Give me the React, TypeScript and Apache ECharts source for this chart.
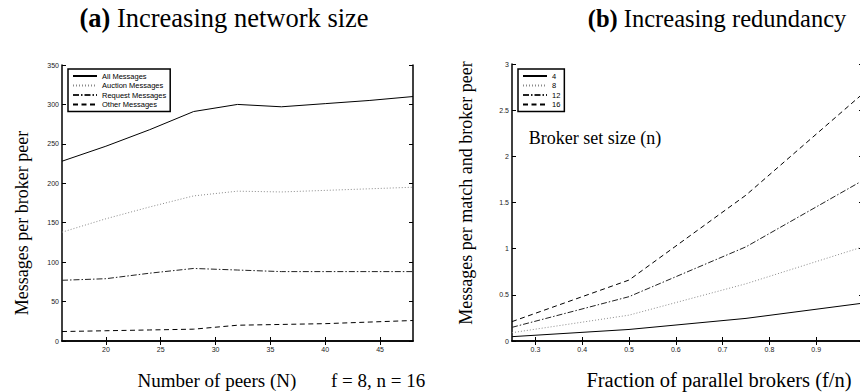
import React, { useEffect, useRef } from "react";
import * as echarts from "echarts";

// ---- Data: (a) Increasing network size ----
const peerCounts = [16, 20, 24, 28, 32, 36, 40, 44, 48];
const allMessages = [228, 247, 268, 291, 300, 297, 301, 305, 310];
const auctionMessages = [138, 155, 170, 184, 190, 189, 191, 193, 195];
const requestMessages = [77, 79, 86, 92, 90, 88, 88, 88, 88];
const otherMessages = [12, 13, 14, 15, 20, 21, 22, 24, 26];
const leftXTicks = [20, 25, 30, 35, 40, 45];

// ---- Data: (b) Increasing redundancy ----
const fractions = [0.25, 0.5, 0.75, 1.0];
const brokers4 = [0.047, 0.125, 0.245, 0.41];
const brokers8 = [0.09, 0.28, 0.62, 1.02];
const brokers12 = [0.148, 0.48, 1.02, 1.74];
const brokers16 = [0.21, 0.66, 1.58, 2.68];
const rightXTicks = [0.3, 0.4, 0.5, 0.6, 0.7, 0.8, 0.9];

const leftNames = ["All Messages", "Auction Messages", "Request Messages", "Other Messages"];
const rightNames = ["4", "8", "12", "16"];

const SERIF = "'Liberation Serif', 'Times New Roman', serif";
const SANS = "'Liberation Sans', Arial, sans-serif";

const SOLID = { color: "#000", type: "solid" as any };
const DOTTED = { color: "#8a8a8a", type: [1, 2] as any };
const DASHDOT = { color: "#222", type: [6, 2, 1.5, 2] as any };
const DASHED = { color: "#000", type: [5, 3.5] as any };

function pairs(xs: number[], ys: number[]) {
  return xs.map((x, i) => [x, ys[i]]);
}

function lineSeries(name: string, xs: number[], ys: number[], style: any, idx: number) {
  return {
    type: "line",
    name,
    data: pairs(xs, ys),
    xAxisIndex: idx * 2,
    yAxisIndex: idx * 2,
    symbol: "none",
    showSymbol: false,
    lineStyle: { width: 1, color: style.color, type: style.type },
    itemStyle: { color: style.color },
    silent: true,
  };
}

const axisLineStyle = { show: true, lineStyle: { color: "#000", width: 1.5 } };
const tickStyle = { show: true, inside: true, length: 4, lineStyle: { color: "#000", width: 1 } };
const labelStyle = { color: "#222", fontSize: 7, fontFamily: SANS };

const legendBase = {
  orient: "vertical",
  top: 69,
  itemWidth: 24,
  itemHeight: 8,
  itemGap: 1.5,
  padding: [3, 4, 3, 4],
  borderColor: "#000",
  borderWidth: 1.5,
  backgroundColor: "#fff",
  itemStyle: { opacity: 0, borderWidth: 0 },
  textStyle: { fontSize: 7.5, fontFamily: SANS, color: "#000" },
  selectedMode: false,
};

export default function App() {
  const ref = useRef<HTMLDivElement>(null);
  useEffect(() => {
    if (!ref.current) return;
    const chart = echarts.init(ref.current, undefined, { renderer: "svg" });
    const option: any = {
      animation: false,
      backgroundColor: "#fff",
      grid: [
        { left: 62, top: 65, width: 351, height: 276 },
        { left: 512, top: 64, width: 351, height: 277 },
      ],
      xAxis: [
        {
          type: "value", gridIndex: 0, position: "bottom", min: 16, max: 48,
          axisLine: axisLineStyle,
          axisTick: { ...tickStyle, customValues: leftXTicks },
          axisLabel: { ...labelStyle, margin: 5, customValues: leftXTicks },
          splitLine: { show: false },
        },
        {
          type: "value", gridIndex: 0, position: "top", min: 16, max: 48,
          axisLine: axisLineStyle,
          axisTick: { ...tickStyle, customValues: leftXTicks },
          axisLabel: { show: false },
          splitLine: { show: false },
        },
        {
          type: "value", gridIndex: 1, position: "bottom", min: 0.25, max: 1.0,
          axisLine: axisLineStyle,
          axisTick: { ...tickStyle, customValues: rightXTicks },
          axisLabel: { ...labelStyle, margin: 5, customValues: rightXTicks },
          splitLine: { show: false },
        },
        {
          type: "value", gridIndex: 1, position: "top", min: 0.25, max: 1.0,
          axisLine: axisLineStyle,
          axisTick: { ...tickStyle, customValues: rightXTicks },
          axisLabel: { show: false },
          splitLine: { show: false },
        },
      ],
      yAxis: [
        {
          type: "value", gridIndex: 0, position: "left", min: 0, max: 350, interval: 50,
          axisLine: axisLineStyle, axisTick: tickStyle,
          axisLabel: { ...labelStyle, margin: 3 },
          splitLine: { show: false },
        },
        {
          type: "value", gridIndex: 0, position: "right", min: 0, max: 350, interval: 50,
          axisLine: axisLineStyle, axisTick: tickStyle,
          axisLabel: { show: false },
          splitLine: { show: false },
        },
        {
          type: "value", gridIndex: 1, position: "left", min: 0, max: 3, interval: 0.5,
          axisLine: axisLineStyle, axisTick: tickStyle,
          axisLabel: { ...labelStyle, margin: 3 },
          splitLine: { show: false },
        },
        {
          type: "value", gridIndex: 1, position: "right", min: 0, max: 3, interval: 0.5,
          axisLine: axisLineStyle, axisTick: tickStyle,
          axisLabel: { show: false },
          splitLine: { show: false },
        },
      ],
      legend: [
        { ...legendBase, data: leftNames, left: 68 },
        { ...legendBase, data: rightNames, left: 518 },
      ],
      series: [
        lineSeries(leftNames[0], peerCounts, allMessages, SOLID, 0),
        lineSeries(leftNames[1], peerCounts, auctionMessages, DOTTED, 0),
        lineSeries(leftNames[2], peerCounts, requestMessages, DASHDOT, 0),
        lineSeries(leftNames[3], peerCounts, otherMessages, DASHED, 0),
        lineSeries(rightNames[0], fractions, brokers4, SOLID, 1),
        lineSeries(rightNames[1], fractions, brokers8, DOTTED, 1),
        lineSeries(rightNames[2], fractions, brokers12, DASHDOT, 1),
        lineSeries(rightNames[3], fractions, brokers16, DASHED, 1),
      ],
      graphic: [
        {
          type: "text", x: 224, y: 18,
          style: {
            text: "{b|(a)} Increasing network size",
            fontSize: 26.5, fontFamily: SERIF, fill: "#000",
            align: "center", verticalAlign: "middle",
            rich: { b: { fontWeight: "bold", fontSize: 26.5, fontFamily: SERIF } },
          },
        },
        {
          type: "text", x: 717, y: 18,
          style: {
            text: "{b|(b)} Increasing redundancy",
            fontSize: 24.5, fontFamily: SERIF, fill: "#000",
            align: "center", verticalAlign: "middle",
            rich: { b: { fontWeight: "bold", fontSize: 24.5, fontFamily: SERIF } },
          },
        },
        {
          type: "text", x: 217, y: 380,
          style: { text: "Number of peers (N)", fontSize: 19, fontFamily: SERIF, fill: "#000", align: "center", verticalAlign: "middle" },
        },
        {
          type: "text", x: 378, y: 380,
          style: { text: "f = 8, n = 16", fontSize: 19, fontFamily: SERIF, fill: "#000", align: "center", verticalAlign: "middle" },
        },
        {
          type: "text", x: 719, y: 380,
          style: { text: "Fraction of parallel brokers (f/n)", fontSize: 20.5, fontFamily: SERIF, fill: "#000", align: "center", verticalAlign: "middle" },
        },
        {
          type: "text", x: 22, y: 223, rotation: Math.PI / 2,
          style: { text: "Messages per broker peer", fontSize: 18, fontFamily: SERIF, fill: "#000", align: "center", verticalAlign: "middle" },
        },
        {
          type: "text", x: 466, y: 193, rotation: Math.PI / 2,
          style: { text: "Messages per match and broker peer", fontSize: 18, fontFamily: SERIF, fill: "#000", align: "center", verticalAlign: "middle" },
        },
        {
          type: "text", x: 595, y: 138,
          style: { text: "Broker set size (n)", fontSize: 18, fontFamily: SERIF, fill: "#000", align: "center", verticalAlign: "middle" },
        },
      ],
    };
    chart.setOption(option);
    return () => chart.dispose();
  }, []);

  return (
    <div style={{ position: "fixed", left: 0, top: 0, width: 860, height: 392, overflow: "hidden", background: "#fff" }}>
      <div ref={ref} style={{ width: 870, height: 392 }} />
    </div>
  );
}
